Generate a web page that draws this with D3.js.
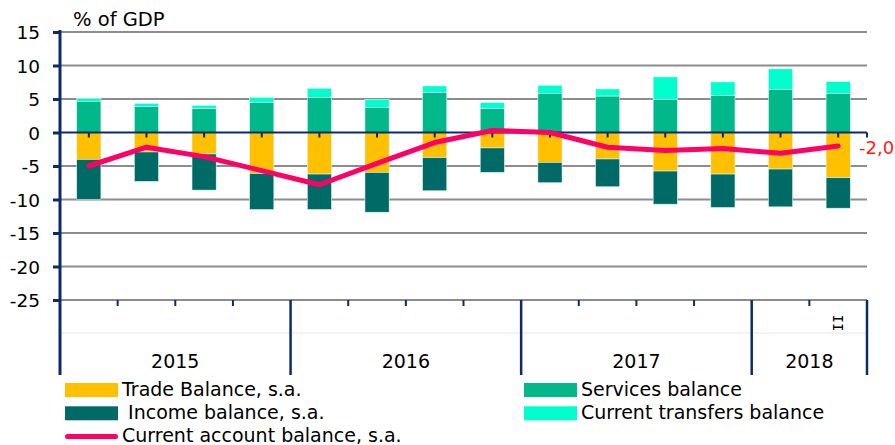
<!DOCTYPE html>
<html>
<head>
<meta charset="utf-8">
<script src="https://cdn.jsdelivr.net/npm/d3@7"></script>
<style>
  body { margin: 0; background: #fff; }
  text { font-family: "DejaVu Sans", Verdana, sans-serif; fill: #000; }
</style>
</head>
<body>
<script>
// Quarters, 2015 Q1 .. 2018 Q2
var quarters = ['2015Q1', '2015Q2', '2015Q3', '2015Q4',
                '2016Q1', '2016Q2', '2016Q3', '2016Q4',
                '2017Q1', '2017Q2', '2017Q3', '2017Q4',
                '2018Q1', '2018Q2'];
var years = ['2015', '2016', '2017', '2018'];
var yTicks = [15, 10, 5, 0, -5, -10, -15, -20, -25];

// % of GDP
var trade     = [-4.0, -2.9, -3.2, -6.1, -6.2, -5.95, -3.75, -2.3, -4.45, -3.95, -5.75, -6.2, -5.45, -6.75];
var income    = [-6.0, -4.4, -5.4, -5.4, -5.3, -5.95, -4.95, -3.65, -3.05, -4.15, -4.95, -5.0, -5.65, -4.55];
var services  = [4.6, 3.85, 3.6, 4.45, 5.2, 3.7, 6.0, 3.55, 5.85, 5.45, 4.9, 5.5, 6.4, 5.85];
var transfers = [0.5, 0.5, 0.45, 0.8, 1.4, 1.25, 0.95, 0.9, 1.2, 1.05, 3.4, 2.05, 3.1, 1.75];
var current   = [-5.0, -2.2, -3.6, -5.7, -7.8, -4.6, -1.5, 0.3, 0.0, -2.2, -2.7, -2.4, -3.1, -2.0];

(function(d3) {

  var width = 895, height = 445;
  var left = 60, right = 867, top = 32, bottom = 300;

  var navy = '#0d2a6b',
    grid = '#8c8c8c';

  // plain hyphen for negatives, comma as decimal mark
  var locale = d3.formatLocale({ decimal: ',', thousands: ' ', grouping: [3], currency: ['', ''], minus: '-' });

  var svg = d3.select('body').append('svg')
    .attr('width', width)
    .attr('height', height);

  var x = d3.scaleBand().domain(quarters).range([left, right]).paddingInner(0.58).paddingOuter(0.29);
  var xb = d3.scaleBand().domain(quarters).range([left, right]);
  var y = d3.scaleLinear().domain([-25, 15]).range([bottom, top]);

  // horizontal gridlines
  svg.append('g').selectAll('line').data(yTicks.filter(function(t) { return t !== 0; }))
    .enter().append('line')
    .attr('x1', left).attr('x2', right)
    .attr('y1', function(d) { return y(d); }).attr('y2', function(d) { return y(d); })
    .attr('stroke', grid).attr('stroke-width', 2);

  // faint separator in the category area
  svg.append('line')
    .attr('x1', left).attr('x2', right).attr('y1', 333).attr('y2', 333)
    .attr('stroke', '#e8e8e8').attr('stroke-width', 1);

  // stacked bars: negative parts go down from zero, positive parts up
  var layers = [
    { values: trade, base: function() { return 0; }, color: '#ffc000' },
    { values: income, base: function(i) { return trade[i]; }, color: '#006a66' },
    { values: services, base: function() { return 0; }, color: '#00b88a' },
    { values: transfers, base: function(i) { return services[i]; }, color: '#00ffcc' }
  ];

  layers.forEach(function(layer) {
    svg.append('g').selectAll('rect').data(layer.values)
      .enter().append('rect')
      .attr('x', function(d, i) { return x(quarters[i]); })
      .attr('width', x.bandwidth())
      .attr('y', function(d, i) { var b = layer.base(i); return y(Math.max(b, b + d)); })
      .attr('height', function(d) { return Math.abs(y(d) - y(0)); })
      .attr('fill', layer.color)
      .attr('stroke', '#dff7f0').attr('stroke-width', 0.6);
  });

  // zero axis with ticks at the category centres
  svg.append('line')
    .attr('x1', left).attr('x2', right).attr('y1', y(0)).attr('y2', y(0))
    .attr('stroke', navy).attr('stroke-width', 2);
  svg.append('g').selectAll('line').data(quarters.concat(['end']))
    .enter().append('line')
    .attr('x1', function(d) { return d === 'end' ? right : xb(d) + xb.bandwidth() / 2; })
    .attr('x2', function(d) { return d === 'end' ? right : xb(d) + xb.bandwidth() / 2; })
    .attr('y1', y(0)).attr('y2', y(0) + 5)
    .attr('stroke', navy).attr('stroke-width', 2);

  // current account line
  var line = d3.line()
    .x(function(d, i) { return xb(quarters[i]) + xb.bandwidth() / 2; })
    .y(function(d) { return y(d); });
  svg.append('path').datum(current)
    .attr('d', line)
    .attr('fill', 'none')
    .attr('stroke', '#ff0066')
    .attr('stroke-width', 5)
    .attr('stroke-linejoin', 'round')
    .attr('stroke-linecap', 'round');

  // last value label, squeezed against the right edge as in the original
  svg.append('text')
    .attr('x', 859).attr('y', y(current[current.length - 1]) + 8)
    .style('fill', '#ff1a1a').attr('font-size', 18)
    .text(locale.format('.1f')(current[current.length - 1]));

  // y axis
  var yAxis = d3.axisLeft(y).tickValues(yTicks).tickSize(7).tickFormat(locale.format('d'));
  var ya = svg.append('g').attr('transform', 'translate(' + left + ',0)').call(yAxis);
  ya.select('.domain').remove();
  ya.selectAll('.tick line').attr('stroke', navy).attr('stroke-width', 3);
  ya.selectAll('.tick text').attr('font-size', 18.5).attr('x', -20).attr('dy', '0.36em')
    .style('font-family', '"DejaVu Sans", Verdana, sans-serif').style('fill', '#000');
  svg.append('line')
    .attr('x1', left).attr('x2', left).attr('y1', top - 2).attr('y2', 375)
    .attr('stroke', navy).attr('stroke-width', 3);

  svg.append('text').attr('x', 73).attr('y', 26).attr('font-size', 19.5).text('% of GDP');

  // category axis: short quarter ticks, long year ticks
  svg.append('g').selectAll('line').data(d3.range(1, quarters.length + 1))
    .enter().append('line')
    .attr('x1', function(i) { return left + i * xb.step(); })
    .attr('x2', function(i) { return left + i * xb.step(); })
    .attr('y1', bottom)
    .attr('y2', function(i) { return (i % 4 === 0 || i === quarters.length) ? 375 : 306; })
    .attr('stroke', navy).attr('stroke-width', function(i) { return (i % 4 === 0 || i === quarters.length) ? 2.5 : 2; });

  svg.append('g').selectAll('text').data(years)
    .enter().append('text')
    .attr('x', function(d) {
      var qs = quarters.filter(function(q) { return q.indexOf(d) === 0; });
      return (xb(qs[0]) + xb(qs[qs.length - 1]) + xb.bandwidth()) / 2;
    })
    .attr('y', 368)
    .attr('text-anchor', 'middle')
    .attr('font-size', 19)
    .text(function(d) { return d; });

  var lastX = xb(quarters[quarters.length - 1]) + xb.bandwidth() / 2;
  svg.append('text')
    .attr('transform', 'translate(' + (lastX - 5) + ',323) rotate(90)')
    .attr('text-anchor', 'middle')
    .attr('font-size', 14)
    .style('font-family', '"DejaVu Sans Mono", monospace')
    .text('II');

  // legend
  var legend = [
    { name: 'Trade Balance, s.a.', color: '#ffc000', col: 0, row: 0 },
    { name: ' Income balance, s.a.', color: '#006a66', col: 0, row: 1 },
    { name: 'Current account balance, s.a.', color: '#ff0066', col: 0, row: 2, line: true },
    { name: 'Services balance', color: '#00b88a', col: 1, row: 0 },
    { name: 'Current transfers balance', color: '#00ffcc', col: 1, row: 1 }
  ];
  var lg = svg.append('g').selectAll('g').data(legend).enter().append('g')
    .attr('transform', function(d) { return 'translate(' + (d.col ? 524 : 65) + ',' + (390 + d.row * 23.3) + ')'; });
  lg.append('rect')
    .attr('x', 0).attr('width', 53)
    .attr('y', function(d) { return d.line ? -2.5 : -7; })
    .attr('height', function(d) { return d.line ? 5 : 14; })
    .attr('rx', function(d) { return d.line ? 2.5 : 0; })
    .attr('fill', function(d) { return d.color; });
  lg.append('text')
    .attr('x', 57).attr('y', 5.5)
    .attr('font-size', 19)
    .attr('xml:space', 'preserve')
    .style('white-space', 'pre')
    .text(function(d) { return d.name; });

})(d3);
</script>
</body>
</html>
